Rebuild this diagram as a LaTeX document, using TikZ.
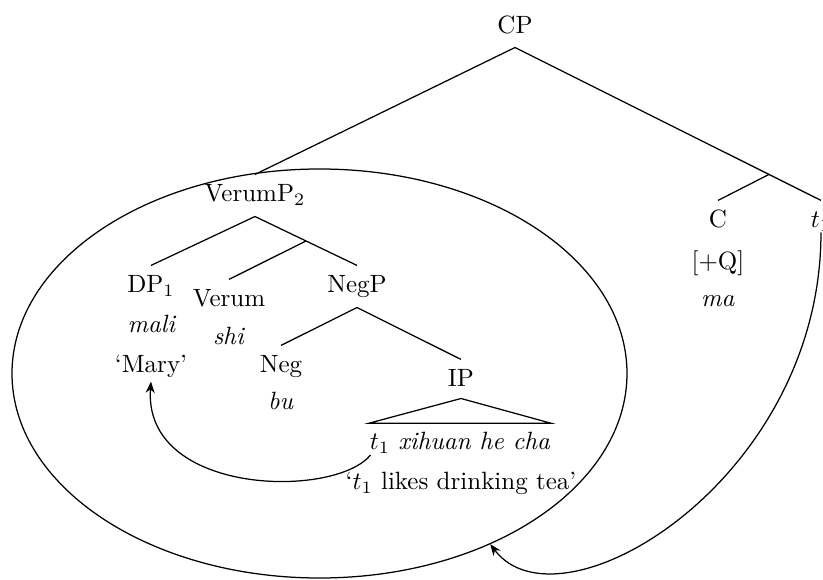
\documentclass[tikz,border=0pt]{standalone}
\usetikzlibrary{arrows.meta,calc,shapes.geometric}
\begin{document}
\begin{tikzpicture}[x=0.4pt,y=-0.4pt,
  cat/.style={inner sep=0pt, anchor=base, text height=6.83pt, text depth=0pt},
  gloss/.style={inner sep=0pt, anchor=base},
  branch/.style={line width=0.5pt},
  move/.style={line width=0.5pt, -{Stealth[length=4.5pt,width=3.6pt,inset=1.4pt]}}
]
\clip (0,0) rectangle (823,580);

% categories and glosses
\node[cat]   (cp)    at (515,33)  {CP};
\node[cat]   (vp)    at (255,202) {VerumP$_2$};
\node[cat]   (c)     at (718,228) {C};
\node[gloss] (q)     at (718,270) {[+Q]};
\node[gloss] (ma)    at (718,307) {\textit{ma}};
\node[cat]   (tc)    at (821,228) {$t_1$};
\node[cat]   (dp)    at (151,293) {DP$_1$};
\node[gloss] (mali)  at (152,333) {\textit{mali}};
\node[gloss] (mary)  at (151,373) {`Mary'};
\node[cat]   (verum) at (229,307) {Verum};
\node[gloss] (shi)   at (229,345) {\textit{shi}};
\node[cat]   (negp)  at (357,293) {NegP};
\node[cat]   (neg)   at (281,373) {Neg};
\node[gloss] (bu)    at (281,410) {\textit{bu}};
\node[cat]   (ip)    at (461,387) {IP};
\node[gloss] (ipstr) at (460,450) {$t_1$ \textit{xihuan he cha}};
\node[gloss] (iptr)  at (461,490) {`$t_1$ likes drinking tea'};

% encircled VerumP
\node[draw, ellipse, inner sep=0pt, line width=0.5pt,
      minimum width=246pt, minimum height=163.6pt] (vpring) at (319.5,373.5) {};

% branching points
\coordinate (cpB)   at ([yshift=-5.6pt]cp.south);
\coordinate (vpB)   at ([yshift=-5.6pt]vp.south);
\coordinate (negpB) at ([yshift=-5.6pt]negp.south);
\coordinate (ipB)   at ([yshift=-4.4pt]ip.south);

% tree branches
\draw[branch] (cpB) -- ([yshift=4pt]vp.north);
\draw[branch] (cpB) -- ([yshift=4pt]tc.north);
\draw[branch] ($(cpB)!0.83!([yshift=4pt]tc.north)$) -- ([yshift=4pt]c.north);
\draw[branch] (vpB) -- ([yshift=4pt]dp.north);
\draw[branch] (vpB) -- ([yshift=4pt]negp.north);
\draw[branch] ($(vpB)!0.5!([yshift=4pt]negp.north)$) -- ([yshift=4pt]verum.north);
\draw[branch] (negpB) -- ([yshift=4pt]neg.north);
\draw[branch] (negpB) -- ([yshift=4pt]ip.north);
\draw[branch] (ipB) -- ([yshift=3.6pt]ipstr.north west)
              -- ([yshift=3.6pt]ipstr.north east) -- cycle;

% movement arrows
\draw[move] ([xshift=0.5pt,yshift=-2pt]ipstr.base west)
  .. controls +(-36,44) and +(-8,114) .. ([yshift=-1.2pt]mary.south);
\draw[move] ([yshift=-1.6pt]tc.south)
  .. controls +(0,248) and +(70,92) .. (vpring.-45);
\end{tikzpicture}
\end{document}
